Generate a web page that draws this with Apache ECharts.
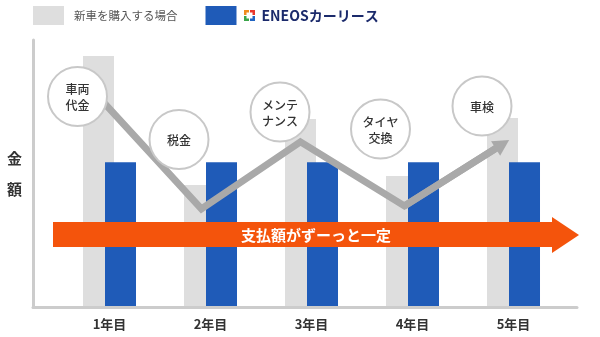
<!DOCTYPE html>
<html>
<head>
<meta charset="utf-8">
<script src="https://cdn.jsdelivr.net/npm/echarts@6/dist/echarts.min.js"></script>
<style>
  html, body { margin: 0; padding: 0; background: #fff; }
  #chart { width: 600px; height: 337px; }
</style>
</head>
<body>
<div id="chart"></div>
<script>
// Yearly cost: buying a new car vs. ENEOS car lease
const years = ['1年目', '2年目', '3年目', '4年目', '5年目'];
const seriesNames = ['新車を購入する場合', 'ENEOSカーリース'];
const purchaseCost = [94, 45.5, 70.3, 48.9, 70.7];
const leaseCost = [54, 54, 54, 54, 54];
// Schematic cost curve when buying (x in year slots, y on the bar scale); last point carries the arrow head
const trendX = [-0.19, 0.91, 1.89, 2.92, 3.89];
const trendY = [82, 36.5, 61.7, 37.6, 60.8];
const costItems = ['車両\n代金', '税金', 'メンテ\nナンス', 'タイヤ\n交換', '車検'];
const bannerText = '支払額がずーっと一定';
const axisTitle = '金\n額';

const FONT = '"Noto Sans CJK JP", "Noto Sans", sans-serif';
const chart = echarts.init(document.getElementById('chart'));

// cost-item bubbles
const bubbleCenters = [[77.5, 96.5], [179, 139.5], [280, 112], [380.5, 129], [482, 106]];
const bubbles = [];
costItems.forEach((t, i) => {
  const [cx, cy] = bubbleCenters[i];
  bubbles.push({
    type: 'circle', z: 100, silent: true,
    shape: { cx: cx, cy: cy, r: 29.5 },
    style: { fill: '#ffffff', stroke: '#c8c8c8', lineWidth: 2 }
  });
  bubbles.push({
    type: 'text', z: 101, silent: true,
    style: {
      text: t, x: cx, y: cy + 1, align: 'center', verticalAlign: 'middle',
      font: '500 12px ' + FONT, fill: '#333333', lineHeight: 16
    }
  });
});

// ENEOS mark next to the legend entry
const logo = [
  { type: 'rect', shape: { x: 244, y: 10, width: 5, height: 5 }, style: { fill: '#f08c1e' } },
  { type: 'rect', shape: { x: 250, y: 10, width: 5, height: 5 }, style: { fill: '#e8382d' } },
  { type: 'rect', shape: { x: 244, y: 16, width: 5, height: 5 }, style: { fill: '#3aa54a' } },
  { type: 'rect', shape: { x: 250, y: 16, width: 5, height: 5 }, style: { fill: '#1f63c2' } },
  { type: 'rect', shape: { x: 246.5, y: 12.5, width: 6, height: 6 }, style: { fill: '#ffffff' } }
].map(e => Object.assign(e, { z: 100, silent: true }));

const banner = [
  {
    type: 'polygon', z: 50, silent: true,
    shape: { points: [[53, 222], [552, 222], [552, 217], [579, 235], [552, 253], [552, 247], [53, 247]] },
    style: { fill: '#f4540c' }
  },
  {
    type: 'text', z: 51, silent: true,
    style: {
      text: bannerText, x: 316, y: 235, align: 'center', verticalAlign: 'middle',
      font: 'bold 15px ' + FONT, fill: '#ffffff'
    }
  }
];

const frameAxis = {
  type: 'value', min: 0, max: 1,
  axisLine: { show: true, lineStyle: { color: '#cccccc', width: 3 } },
  axisTick: { show: false }, axisLabel: { show: false }, splitLine: { show: false }
};

chart.setOption({
  animation: false,
  textStyle: { fontFamily: FONT },
  legend: {
    left: 33, top: 6, padding: 0, itemWidth: 31, itemHeight: 19, itemGap: 28,
    icon: 'rect', selectedMode: false, data: seriesNames,
    formatter: n => n === seriesNames[1] ? '{sp|}{e|' + n + '}' : '{n|' + n + '}',
    textStyle: {
      rich: {
        n: { fontSize: 11.5, color: '#555555', padding: [0, 0, 0, 5], fontFamily: FONT },
        sp: { width: 20 },
        e: { fontSize: 14, fontWeight: 'bold', color: '#1b2a6b', fontFamily: FONT }
      }
    }
  },
  grid: [
    { left: 33, right: 23, top: 40, bottom: 30 },
    { left: 59, width: 505, top: 40, bottom: 31 }
  ],
  xAxis: [
    Object.assign({ gridIndex: 0 }, frameAxis),
    {
      gridIndex: 1, type: 'category', data: years,
      axisLine: { show: false }, axisTick: { show: false },
      axisLabel: { margin: 12, fontSize: 13, fontWeight: 'bold', color: '#333333', fontFamily: FONT }
    },
    { gridIndex: 1, type: 'value', min: -0.5, max: 4.5, show: false }
  ],
  yAxis: [
    Object.assign({
      gridIndex: 0, name: axisTitle, nameLocation: 'middle', nameRotate: 0, nameGap: 11,
      nameTextStyle: { fontSize: 15, fontWeight: 'bold', color: '#333333', lineHeight: 31, fontFamily: FONT }
    }, frameAxis),
    { gridIndex: 1, type: 'value', min: 0, max: 100, show: false }
  ],
  series: [
    {
      name: seriesNames[0], type: 'bar', xAxisIndex: 1, yAxisIndex: 1,
      data: purchaseCost, barWidth: 31, barGap: '-29%', z: 1,
      itemStyle: { color: '#dedede' }, silent: true
    },
    {
      name: seriesNames[1], type: 'bar', xAxisIndex: 1, yAxisIndex: 1,
      data: leaseCost, barWidth: 31, barGap: '-29%', z: 2,
      itemStyle: { color: '#1f5bb8' }, silent: true
    },
    {
      type: 'line', xAxisIndex: 2, yAxisIndex: 1, z: 5, silent: true,
      data: trendX.map((x, i) => [x, trendY[i]]),
      symbol: 'none',
      lineStyle: { color: '#a9a9a9', width: 7, join: 'miter' },
      markLine: {
        silent: true, symbol: ['none', 'triangle'], symbolSize: [17, 16],
        label: { show: false },
        lineStyle: { color: '#a9a9a9', width: 7, type: 'solid' },
        data: [[{ coord: [trendX[3], trendY[3]] }, { coord: [trendX[4], trendY[4]] }]]
      }
    }
  ],
  graphic: { elements: banner.concat(bubbles, logo) }
});
</script>
</body>
</html>
